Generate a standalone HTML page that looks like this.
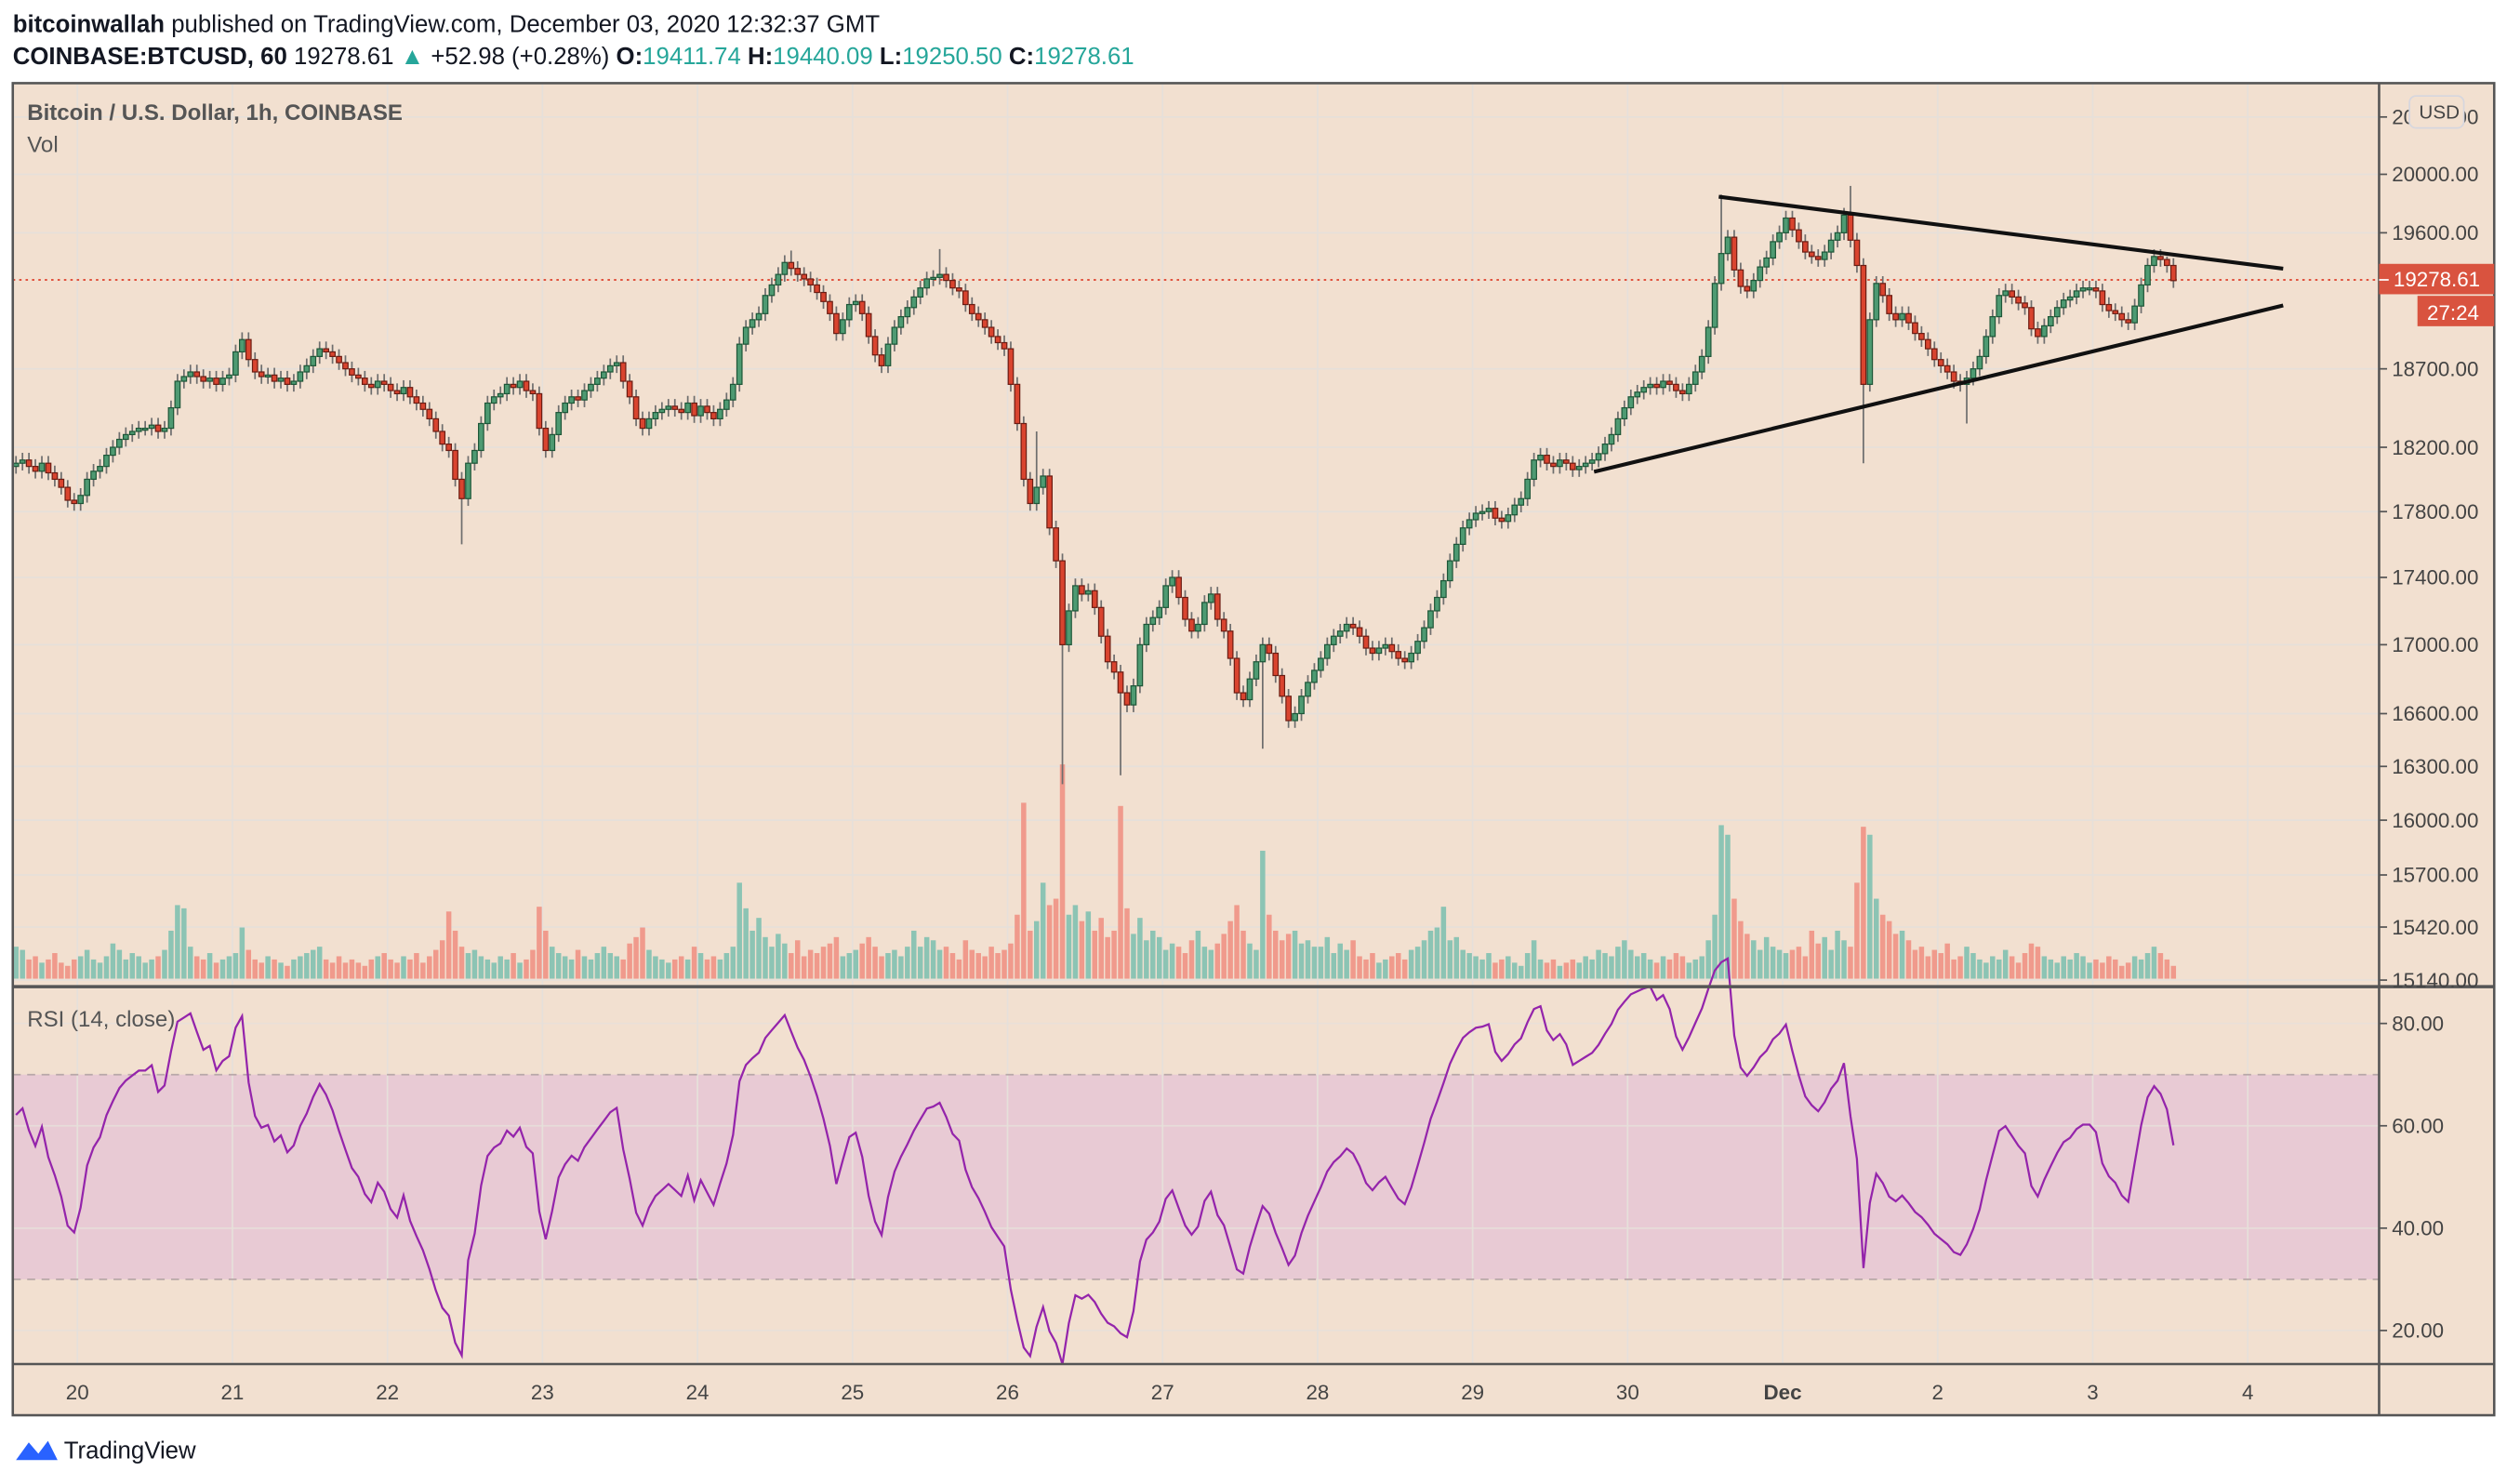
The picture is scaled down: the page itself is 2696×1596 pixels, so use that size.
<!DOCTYPE html>
<html><head><meta charset="utf-8"><title>BTCUSD 1h</title>
<style>
html,body{margin:0;padding:0;background:#fff;}
svg{display:block;}
text{font-family:"Liberation Sans Narrow","Liberation Sans",sans-serif;}
</style></head>
<body>
<svg id="chart" xmlns="http://www.w3.org/2000/svg" width="2696" height="1596" viewBox="0 0 1568 928" preserveAspectRatio="none">
  <rect x="0" y="0" width="1568" height="928" fill="#ffffff"/>
  <g>
    <text x="8" y="20" font-size="15" fill="#131722"><tspan font-weight="bold">bitcoinwallah</tspan> published on TradingView.com, December 03, 2020 12:32:37 GMT</text>
    <text x="8" y="40" font-size="15" fill="#131722"><tspan font-weight="bold">COINBASE:BTCUSD, 60</tspan> 19278.61 <tspan fill="#26a69a">▲</tspan> +52.98 (+0.28%) <tspan font-weight="bold">O:</tspan><tspan fill="#26a69a">19411.74</tspan> <tspan font-weight="bold">H:</tspan><tspan fill="#26a69a">19440.09</tspan> <tspan font-weight="bold">L:</tspan><tspan fill="#26a69a">19250.50</tspan> <tspan font-weight="bold">C:</tspan><tspan fill="#26a69a">19278.61</tspan></text>
  </g>
  <rect x="8" y="52" width="1552" height="833" fill="#f2e0d0"/>
  <rect x="8" y="672" width="1480" height="128" fill="#e8cad4"/>
  <g id="grid"></g>
  <line x1="8" y1="672" x2="1488" y2="672" stroke="#b8a8a8" stroke-dasharray="5,4" stroke-width="1"/>
  <line x1="8" y1="800" x2="1488" y2="800" stroke="#b8a8a8" stroke-dasharray="5,4" stroke-width="1"/>
  <g id="volume"></g>
  <line x1="8" y1="175" x2="1488" y2="175" stroke="#e0533f" stroke-dasharray="1.5,2.5" stroke-width="1.2"/>
  <g id="candles"></g>
  <g>
    <line x1="1075" y1="123" x2="1428" y2="168" stroke="#111" stroke-width="2.4"/>
    <line x1="997" y1="295" x2="1428" y2="191" stroke="#111" stroke-width="2.4"/>
  </g>
  <path id="rsiline" fill="none" stroke="#9424ab" stroke-width="1.3"/>
  <g fill="none" stroke="#555" stroke-width="1.5">
    <rect x="8" y="52" width="1552" height="833"/>
    <line x1="1488" y1="52" x2="1488" y2="885"/>
    <line x1="8" y1="617" x2="1560" y2="617" stroke-width="2"/>
    <line x1="8" y1="853" x2="1560" y2="853"/>
  </g>
  <g id="yaxis"></g>
  <g id="rsiaxis"></g>
  <g id="xaxis"></g>
  <text x="17" y="75" font-size="14" font-weight="bold" fill="#555">Bitcoin / U.S. Dollar, 1h, COINBASE</text>
  <text x="17" y="95" font-size="14" fill="#555">Vol</text>
  <text x="17" y="642" font-size="14" fill="#555">RSI (14, close)</text>
  <g>
    <rect x="1488" y="165" width="72" height="19" fill="#d9533f"/>
    <line x1="1488" y1="175" x2="1494" y2="175" stroke="#fff" stroke-width="1"/>
    <text x="1497" y="179" font-size="13" fill="#fff">19278.61</text>
    <rect x="1512" y="185" width="48" height="19" fill="#d9533f"/>
    <text x="1518" y="200" font-size="13" fill="#fff">27:24</text>
  </g>
  <g>
    <rect x="1507" y="60" width="34" height="20" rx="4" fill="#f2e0d0" stroke="#d6d6de" stroke-width="1"/>
    <text x="1513" y="74" font-size="12" fill="#444">USD</text>
  </g>
  <g>
    <path d="M10 913 L18 902 L24 909 L30 901 L36 913 Z" fill="#2962ff"/>
    <text x="40" y="912" font-size="15" fill="#131722">TradingView</text>
  </g>
</svg>
<script>
// ---- data ----
const firstOpen = 18080;
const closes = [
18100,18120,18080,18050,18100,18040,18000,17950,17870,17850,
17900,18000,18050,18080,18150,18200,18250,18280,18300,18320,18320,18340,18300,18320,18450,18620,18650,18680,18650,18620,18640,18600,18640,18660,
18810,18890,18760,18680,18650,18660,18620,18640,18600,18620,18680,18720,18780,18830,18810,18780,18740,18700,18660,18640,18600,18580,18620,18600,
18560,18540,18580,18520,18480,18440,18380,18300,18220,18180,18000,17880,18100,18180,18350,18480,18520,18540,18600,18580,18620,18560,18540,18320,
18180,18280,18420,18480,18520,18500,18560,18600,18640,18680,18720,18740,18620,18520,18380,18320,18380,18420,18440,18460,18440,18420,18480,18400,
18460,18420,18380,18440,18500,18600,18860,18970,19020,19060,19180,19250,19320,19400,19360,19320,19290,19250,19200,19140,19060,18930,19020,19120,
19140,19060,18910,18790,18720,18860,18970,19040,19100,19170,19230,19290,19300,19320,19280,19230,19210,19120,19060,19020,18970,18910,18870,18830,
18600,18350,18000,17850,17950,18020,17700,17500,17000,17200,17350,17300,17320,17220,17050,16900,16840,16720,16650,16760,17000,17120,17160,17220,
17350,17400,17280,17150,17080,17120,17250,17300,17150,17080,16920,16720,16680,16800,16900,17000,16950,16820,16700,16560,16600,16700,16780,16850,
16920,17000,17050,17080,17120,17100,17050,16980,16950,16980,17000,16960,16920,16900,16950,17020,17100,17200,17280,17380,17500,17600,17700,17750,
17790,17800,17820,17760,17740,17780,17840,17880,18000,18120,18150,18100,18080,18120,18100,18060,18080,18100,18120,18160,18220,18280,18380,18450,
18520,18550,18580,18600,18580,18620,18600,18560,18540,18600,18680,18780,18970,19260,19460,19570,19350,19240,19210,19280,19370,19430,19540,19600,
19700,19620,19540,19470,19440,19420,19470,19550,19600,19720,19550,19380,18600,19020,19260,19180,19060,19020,19060,19000,18930,18890,18830,18760,
18720,18680,18620,18600,18640,18700,18780,18910,19040,19180,19210,19170,19130,19100,18960,18910,18980,19040,19100,19150,19170,19210,19230,19230,
19210,19120,19080,19060,19020,19000,19110,19250,19380,19440,19420,19380,19278.61
];
const volumes = [
20,18,12,14,10,12,16,10,8,12,
14,18,12,10,14,22,18,12,16,14,10,12,14,18,30,46,44,20,14,12,16,10,12,14,
16,32,18,12,10,14,12,10,8,12,14,16,18,20,12,10,14,10,12,10,8,12,14,16,
12,10,14,12,16,10,14,18,24,42,30,20,16,18,14,12,10,14,12,16,10,12,18,45,
30,20,16,14,12,18,14,12,16,20,16,14,12,22,26,32,18,14,12,10,12,14,12,20,
16,12,14,12,16,20,60,44,30,38,26,20,28,22,16,24,14,18,16,20,22,26,14,16,
18,22,26,20,14,16,18,14,20,30,20,26,24,18,20,16,12,24,18,16,14,20,16,18,
22,40,110,30,36,60,46,50,134,40,46,36,42,30,38,26,30,108,44,28,38,24,30,26,
18,22,20,16,24,30,20,18,22,28,36,46,30,22,18,80,40,30,24,28,30,22,24,20,
20,26,16,22,18,24,14,12,16,10,12,14,16,12,18,20,24,30,32,45,24,26,18,16,
14,12,16,10,12,14,10,8,16,24,12,10,12,8,10,12,10,14,12,18,16,14,20,24,
18,14,16,12,10,14,12,16,14,10,12,14,24,40,96,90,50,36,28,24,18,26,20,18,
16,18,20,14,30,22,26,18,30,24,20,60,95,90,50,40,36,28,30,24,18,20,14,18,
16,22,12,14,20,16,12,10,14,12,18,14,10,16,22,20,14,12,10,14,12,16,14,10,
12,10,14,12,8,10,14,12,16,20,16,12,8
];
const highSpikeIdx = [120, 143, 158, 264, 284, 333];
const highSpikeVal = [19480, 19490, 18300, 19860, 19920, 19440];
const lowSpikeIdx = [69, 162, 171, 193, 286, 302];
const lowSpikeVal = [17600, 16200, 16250, 16400, 18100, 18350];
const priceTicks = [20400, 20000, 19600, 18700, 18200, 17800, 17400, 17000, 16600, 16300, 16000, 15700, 15420, 15140];
const rsiTicks = [80, 60, 40, 20];
const dayLabels = ["20","21","22","23","24","25","26","27","28","29","30","Dec","2","3","4"];
const firstDayIndex = 10;

// ---- scales ----
const NS = "http://www.w3.org/2000/svg";
const X0 = 8, STEP = 4.04;
function xScale(i){ return X0 + STEP * (i + 0.5); }
function yPrice(p){ return 109 + (Math.log(20000) - Math.log(p)) * 1810; }
function yRsi(v){ return 896 - v * 3.2; }
const volMax = Math.max.apply(null, volumes);
function yVol(v){ return 612 - v / volMax * 134; }

function mk(tag, attrs, parent){
  const el = document.createElementNS(NS, tag);
  for (const k in attrs) el.setAttribute(k, attrs[k]);
  parent.appendChild(el);
  return el;
}

const grid = document.getElementById('grid');
const yaxis = document.getElementById('yaxis');
priceTicks.forEach(p => {
  const y = yPrice(p);
  const gl = mk('line', {x1: 8, x2: 1488, y1: y, y2: y, stroke: '#e6e0da', 'stroke-width': 1}, grid);
  
  
  mk('line', {x1: 1488, x2: 1493, y1: y, y2: y, stroke: '#555', 'stroke-width': 1}, yaxis);
  const t = mk('text', {x: 1496, y: y + 4.5, 'font-size': 13, fill: '#444'}, yaxis);
  t.textContent = p.toFixed(2);
  
  
});
const rsiaxis = document.getElementById('rsiaxis');
rsiTicks.forEach(v => {
  const y = yRsi(v);
  const gl = mk('line', {x1: 8, x2: 1488, y1: y, y2: y, stroke: '#e6e0da', 'stroke-width': 1, 'stroke-opacity': 0.8}, grid);
  
  
  mk('line', {x1: 1488, x2: 1493, y1: y, y2: y, stroke: '#555', 'stroke-width': 1}, rsiaxis);
  const t = mk('text', {x: 1496, y: y + 4.5, 'font-size': 13, fill: '#444'}, rsiaxis);
  t.textContent = v.toFixed(2);
  
  
});
const xaxis = document.getElementById('xaxis');
dayLabels.forEach((d, k) => {
  const x = X0 + STEP * (firstDayIndex + 24 * k);
  const gl = mk('line', {x1: x, x2: x, y1: 52, y2: 853, stroke: '#e6e0da', 'stroke-width': 1}, grid);
  
  
  const t = mk('text', {x: x, y: 875, 'font-size': 13, fill: '#444', 'text-anchor': 'middle', 'font-weight': d === 'Dec' ? 'bold' : 'normal'}, xaxis);
  t.textContent = d;
  
  
});

const cg = document.getElementById('candles');
const vg = document.getElementById('volume');
for (let i = 0; i < closes.length; i++) {
  const o = i === 0 ? firstOpen : closes[i - 1];
  const c = closes[i];
  let h = Math.max(o, c) * 1.0025, l = Math.min(o, c) * 0.9975;
  const hi = highSpikeIdx.indexOf(i); if (hi >= 0) h = highSpikeVal[hi];
  const li = lowSpikeIdx.indexOf(i); if (li >= 0) l = lowSpikeVal[li];
  const up = c >= o;
  const x = xScale(i);
  const vb = mk('rect', {x: x - 1.6, y: yVol(volumes[i]), width: 3.2, height: 612 - yVol(volumes[i]), fill: up ? '#8cc4b4' : '#f09a8c'}, vg);
  
  
  const w = mk('line', {x1: x, x2: x, y1: yPrice(h), y2: yPrice(l), stroke: '#6e6e6e', 'stroke-width': 1}, cg);
  
  
  const yt = yPrice(Math.max(o, c)), yb = yPrice(Math.min(o, c));
  const b = mk('rect', {x: x - 1.6, y: yt, width: 3.2, height: Math.max(1.2, yb - yt), fill: up ? '#4e9a72' : '#d9442f', stroke: up ? '#1d5637' : '#6b1c12', 'stroke-width': 0.7}, cg);
  
  
}

let avgG = 28, avgL = 18;
let d = '';
for (let i = 0; i < closes.length; i++) {
  const prev = i === 0 ? firstOpen : closes[i - 1];
  const ch = closes[i] - prev;
  avgG = (avgG * 13 + Math.max(ch, 0)) / 14;
  avgL = (avgL * 13 + Math.max(-ch, 0)) / 14;
  const rsi = avgL === 0 ? 100 : 100 - 100 / (1 + avgG / avgL);
  d += (i === 0 ? 'M' : 'L') + xScale(i).toFixed(1) + ' ' + yRsi(rsi).toFixed(1);
}
document.getElementById('rsiline').setAttribute('d', d);
</script>
</body></html>
